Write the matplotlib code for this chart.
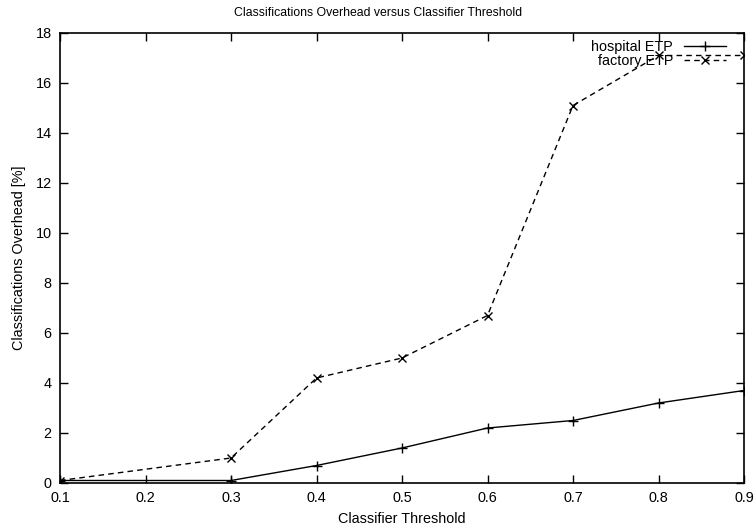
import matplotlib
matplotlib.use('Agg')
import matplotlib.pyplot as plt

plt.rcParams['font.family'] = ['Liberation Sans', 'DejaVu Sans']
plt.rcParams['font.size'] = 10.4

thresholds = [0.1, 0.3, 0.4, 0.5, 0.6, 0.7, 0.8, 0.9]
hospital_etp = [0.1, 0.1, 0.7, 1.4, 2.2, 2.5, 3.2, 3.7]
factory_etp = [0.1, 1.0, 4.2, 5.0, 6.7, 15.1, 17.1, 17.1]

fig = plt.figure(figsize=(7.56, 5.29), dpi=100)
ax = fig.add_axes([60 / 756, 1 - 483 / 529, 684 / 756, 450 / 529])

ax.plot(thresholds, hospital_etp, color='black', linestyle='-', linewidth=1.0,
        marker='+', markersize=7, markeredgewidth=1.0, label='hospital ETP')
ax.plot(thresholds, factory_etp, color='black', linestyle=(0, (4, 3)), linewidth=1.0,
        marker='x', markersize=6, markeredgewidth=1.0, label='factory ETP')

ax.set_xlim(0.1, 0.9)
ax.set_ylim(0, 18)
ax.set_xticks([0.1, 0.2, 0.3, 0.4, 0.5, 0.6, 0.7, 0.8, 0.9])
ax.set_yticks(range(0, 19, 2))
ax.tick_params(direction='in', top=True, right=True, length=6, width=1.0, pad=6)
for s in ax.spines.values():
    s.set_linewidth(1.2)

ax.set_xlabel('Classifier Threshold', labelpad=5)
ax.set_ylabel('Classifications Overhead [%]', labelpad=7)
fig.suptitle('Classifications Overhead versus Classifier Threshold', fontsize=8.8,
             x=0.5, y=1 - 13 / 529, va='center')

leg = ax.legend(loc='upper right', bbox_to_anchor=(0.984, 1.0), frameon=False,
                markerfirst=False, handlelength=2.9, borderaxespad=0.2,
                labelspacing=0.0, handletextpad=0.75, borderpad=0.3)

fig.savefig('out.png', dpi=100)
